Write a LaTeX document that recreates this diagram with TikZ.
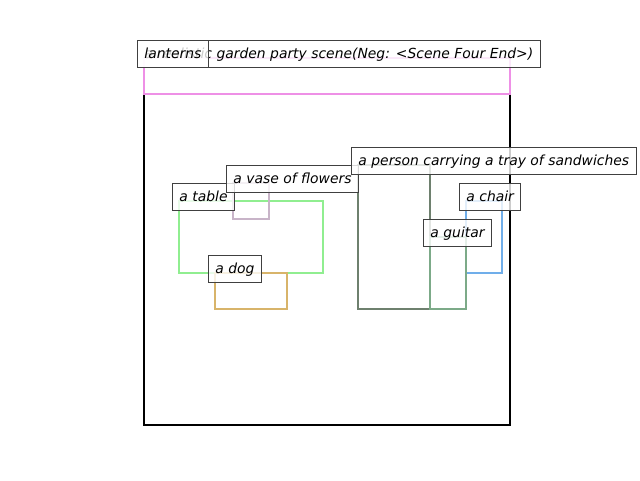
\documentclass[tikz,border=0pt]{standalone}
\usepackage{fontspec}
\setmainfont{DejaVu Sans}
\usepackage{xcolor}
\usepackage{tikz}
\usetikzlibrary{calc}

\definecolor{tablegreen}{HTML}{90EE90}
\definecolor{vaselilac}{HTML}{C8B4C8}
\definecolor{dogtan}{HTML}{D8B46A}
\definecolor{persongrey}{HTML}{6E806E}
\definecolor{guitargreen}{HTML}{7CAA88}
\definecolor{chairblue}{HTML}{70AEEA}
\definecolor{lanternpink}{HTML}{EE90E6}

\tikzset{
  objbox/.style={line width=2pt},
  tag/.style={draw=black!75, line width=0.9pt, fill=white, fill opacity=0.8,
    text opacity=1, anchor=base west, inner xsep=7pt, inner ysep=0pt,
    text height=18pt, text depth=9pt,
    font=\fontsize{13.9pt}{16pt}\selectfont\itshape}
}

\begin{document}
\begin{tikzpicture}[x=1pt, y=-1pt]

    % =================================================================
    % 1. KHUNG ANH VA TOA DO
    % =================================================================
    \useasboundingbox (0,0) rectangle (640,480);

    \coordinate (F1) at (144,58);
    \coordinate (F2) at (510,425);

    % =================================================================
    % 2. KHUNG TONG VA CAC HOP DOI TUONG
    % =================================================================
    % Khung canh
    \draw[line width=2.5pt] (F1) rectangle (F2);

    % Cac doi tuong
    \draw[objbox, tablegreen] (179,201) rectangle (323,273);
    \draw[objbox, vaselilac] (233,183) rectangle (269,219);
    \draw[objbox, dogtan] (215,273) rectangle (287,309);
    \draw[objbox, persongrey] (358,165) rectangle (430,309);
    \draw[objbox, chairblue] (466,201) rectangle (502,273);
    \draw[objbox, guitargreen] (430,237) rectangle (466,309);
    \draw[objbox, lanternpink] (144,58) rectangle (510,94);

    % =================================================================
    % 3. NHAN CUA CAC HOP
    % =================================================================
    \node[tag] (scene) at (137,58) {a realistic garden party scene(Neg: <Scene Four End>)};
    \node[tag] (table) at (172,201) {a table};
    \node[tag] (vase) at (226,183) {a vase of flowers};
    \node[tag] (dog) at (208,273) {a dog};
    \node[tag] (person) at (351,165) {a person carrying a tray of sandwiches};
    \node[tag] (chair) at (459,201) {a chair};
    \node[tag] (guitar) at (423,237) {a guitar};
    \node[tag] (lanterns) at (137,58) {lanterns};

\end{tikzpicture}
\end{document}
